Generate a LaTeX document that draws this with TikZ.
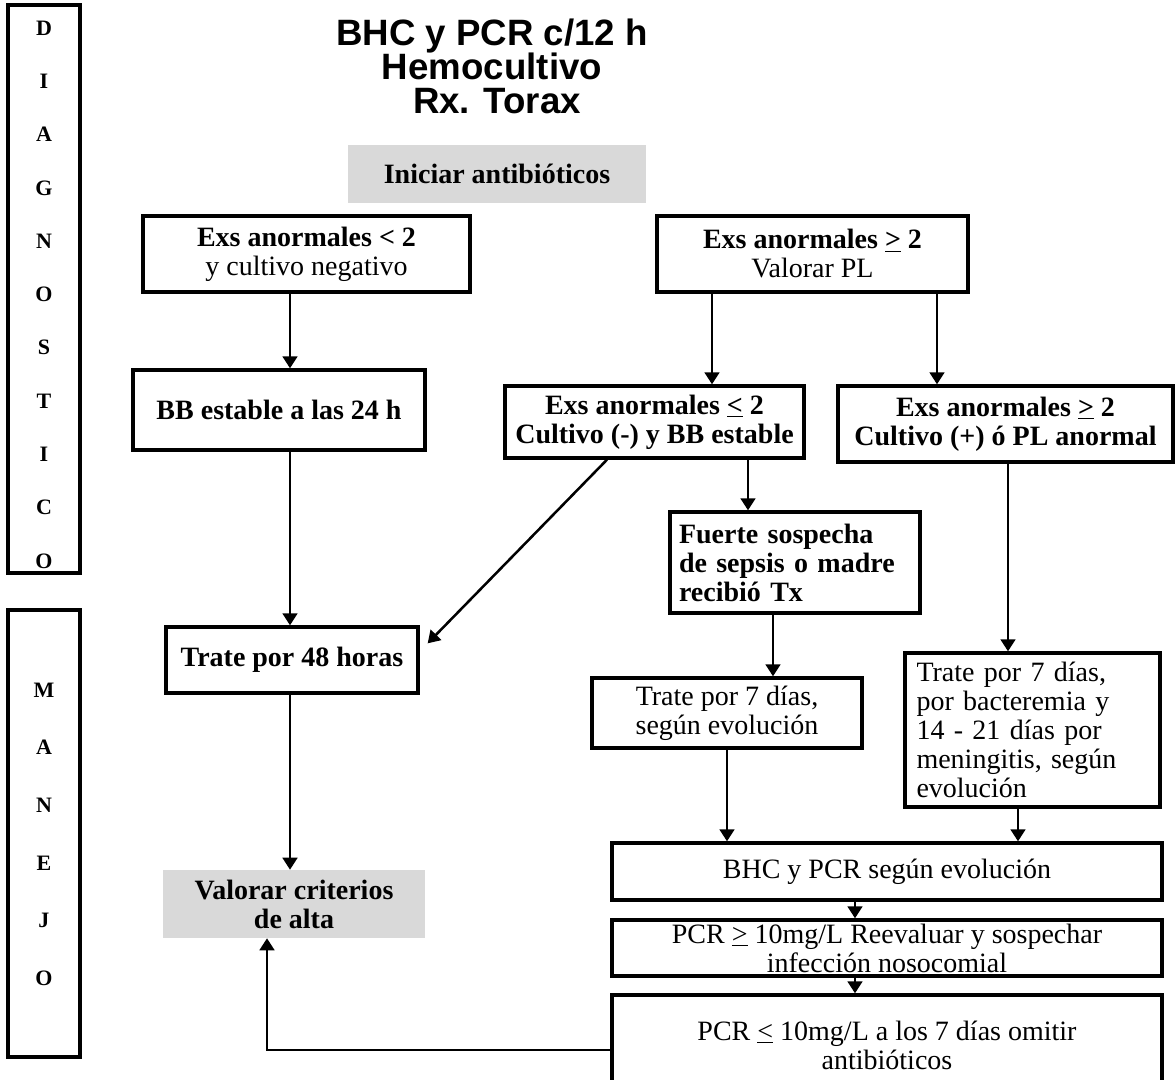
\documentclass[tikz,border=0pt]{standalone}
\usepackage{fontspec}
\setmainfont{Liberation Serif}
\newfontfamily\titlefont{Liberation Sans}
\usetikzlibrary{arrows.meta}
\begin{document}
\begin{tikzpicture}[x=0.75pt,y=-0.75pt,
 box/.style={draw, line width=2.5pt, inner sep=0pt, align=center, font=\fontsize{21}{21.75}\selectfont},
 bbox/.style={box, font=\bfseries\fontsize{21}{21.75}\selectfont},
 graybox/.style={fill=black!15, inner sep=0pt, align=center, font=\bfseries\fontsize{21}{21.75}\selectfont},
 sz/.style 2 args={minimum width=#1*0.75pt, minimum height=#2*0.75pt},
 arr/.style={line width=1.9pt, -{Triangle[width=11pt,length=9pt]}},
 side/.style={font=\bfseries\fontsize{16.5}{16.5}\selectfont, inner sep=0pt},
 titlestyle/.style={font=\titlefont\bfseries\fontsize{27.5}{27.5}\selectfont, inner sep=0pt},
]
\useasboundingbox (0,0) rectangle (1175,1080);

% x positions of connectors
\coordinate (x267) at (267,0);
\coordinate (x290) at (290,0);
\coordinate (x607) at (607,0);
\coordinate (x712) at (712,0);
\coordinate (x727) at (727,0);
\coordinate (x748) at (748,0);
\coordinate (x773) at (773,0);
\coordinate (x855) at (855,0);
\coordinate (x937) at (937,0);
\coordinate (x1008) at (1008,0);
\coordinate (x1018) at (1018,0);
\coordinate (y1050) at (0,1050);

% side bars
\node[box, sz={72}{568}] (diag) at (44,289) {};
\foreach \l [count=\i] in {D,I,A,G,N,O,S,T,I,C,O}
  \node[side] (d\i) at (44,{28+(\i-1)*53.3}) {\l};
\node[box, sz={72}{447}] (manejo) at (44,833.5) {};
\foreach \l [count=\i] in {M,A,N,E,J,O}
  \node[side] (m\i) at (44,{690+(\i-1)*57.6}) {\l};

% title
\node[titlestyle, anchor=base] (t1) at (492,46) {BHC y PCR c/12 h};
\node[titlestyle, anchor=base] (t2) at (492,80) {Hemocultivo};
\node[titlestyle, anchor=base] (t3) at (497,114) {Rx. Torax};

\node[graybox, sz={298}{58}] (ini) at (497,174) {Iniciar antibióticos};

\node[box, sz={327}{76}] (A) at (306.5,254) {\textbf{Exs anormales < 2}\\y cultivo negativo};
\node[box, sz={311}{76}] (B) at (812.5,254) {\textbf{Exs anormales \underline{>} 2}\\Valorar PL};
\node[bbox, sz={292}{80}] (C) at (279,410) {BB estable a las 24 h};
\node[bbox, sz={299}{72}] (D) at (654.5,422) {Exs anormales \underline{<} 2\\Cultivo (-) y BB estable};
\node[bbox, sz={335}{76}] (E) at (1005.5,424) {Exs anormales \underline{>} 2\\Cultivo (+) ó PL anormal};
\node[bbox, sz={250}{101}, text width=232*0.75pt, align=left] (F) at (795,562.5) {Fuerte sospecha\\de sepsis o madre\\recibió Tx};
\node[bbox, sz={252}{66}] (G) at (292,660) {Trate por 48 horas};
\node[box, sz={270}{70}] (H) at (727,713) {Trate por 7 días,\\según evolución};
\node[box, sz={255}{154}, text width=232*0.75pt, align=left] (I) at (1032.5,730) {Trate por 7 días,\\por bacteremia y\\14 - 21 días por\\meningitis, según\\evolución};
\node[graybox, sz={262}{68}] (K) at (294,904) {Valorar criterios\\de alta};
\node[box, sz={550}{57}] (J) at (887,871.5) {BHC y PCR según evolución};
\node[box, sz={550}{56}] (L) at (887,948) {PCR \underline{>} 10mg/L Reevaluar y sospechar\\infección nosocomial};
\node[box, sz={550}{100}] (M) at (887,1045) {PCR \underline{<} 10mg/L a los 7 días omitir\\antibióticos};

% connectors
\draw[arr] (A.south -| x290) -- (C.north -| x290);
\draw[arr] (B.south -| x712) -- (D.north -| x712);
\draw[arr] (B.south -| x937) -- (E.north -| x937);
\draw[arr] (D.south -| x748) -- (F.north -| x748);
\draw[arr] (D.south -| x607) -- ([shift={(8,18)}]G.north east);
\draw[arr] (C.south -| x290) -- (G.north -| x290);
\draw[arr] (F.south -| x773) -- (H.north -| x773);
\draw[arr] (E.south -| x1008) -- (I.north -| x1008);
\draw[arr] (H.south -| x727) -- (J.north -| x727);
\draw[arr] (I.south -| x1018) -- (J.north -| x1018);
\draw[arr] (G.south -| x290) -- (K.north -| x290);
\draw[arr] (J.south -| x855) -- (L.north -| x855);
\draw[arr] (L.south -| x855) -- (M.north -| x855);
\draw[arr] (M.west |- y1050) -| (K.south -| x267);
\end{tikzpicture}
\end{document}
